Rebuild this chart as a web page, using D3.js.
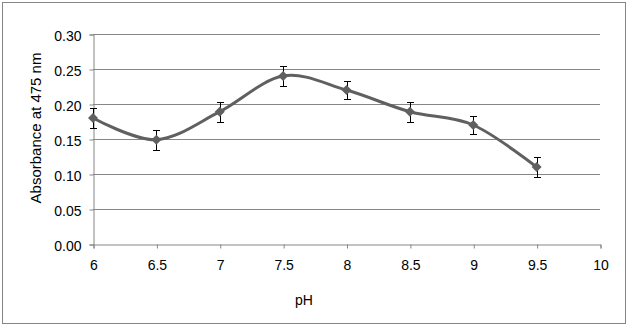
<!DOCTYPE html>
<html>
<head>
<meta charset="utf-8">
<script src="https://cdn.jsdelivr.net/npm/d3@7"></script>
<style>
  html, body { margin: 0; padding: 0; background: #fff; }
  svg { display: block; font-family: "Liberation Sans", Arial, sans-serif; }
</style>
</head>
<body>
<svg id="chart" width="629" height="327"></svg>
<script>
// Absorbance at 475 nm versus pH
const phValues = [6, 6.5, 7, 7.5, 8, 8.5, 9, 9.5];
const absorbance = [0.18, 0.149, 0.189, 0.24, 0.22, 0.189, 0.17, 0.11];
const errors = [0.014, 0.014, 0.014, 0.014, 0.013, 0.014, 0.013, 0.014];
const xTicks = [6, 6.5, 7, 7.5, 8, 8.5, 9, 9.5, 10];
const yTicks = [0, 0.05, 0.10, 0.15, 0.20, 0.25, 0.30];

const svg = d3.select("#chart");
const plotLeft = 93, plotRight = 600, plotTop = 34, plotBottom = 244;
const axisColor = "#868686";
const fontFamily = "Liberation Sans, Arial, sans-serif";

// Outer chart frame
svg.append("rect")
  .attr("x", 2.5).attr("y", 2.5)
  .attr("width", 623).attr("height", 321)
  .attr("fill", "#fff").attr("stroke", axisColor).attr("stroke-width", 1);

const x = d3.scaleLinear().domain([6, 10]).range([plotLeft, plotRight]);
const y = d3.scaleLinear().domain([0, 0.30]).range([plotBottom, plotTop]);

// Horizontal gridlines
svg.append("g")
  .selectAll("line")
  .data(yTicks.filter(t => t > 0))
  .join("line")
  .attr("x1", plotLeft).attr("x2", plotRight)
  .attr("y1", d => Math.round(y(d)) + 0.5).attr("y2", d => Math.round(y(d)) + 0.5)
  .attr("stroke", axisColor).attr("stroke-width", 1);

// Y axis
const yAxis = svg.append("g")
  .attr("transform", `translate(${plotLeft + 0.5},0.5)`)
  .call(d3.axisLeft(y).tickValues(yTicks).tickFormat(d3.format(".2f")).tickSize(4).tickPadding(8));
yAxis.select(".domain").attr("stroke", axisColor);
yAxis.selectAll(".tick line").attr("stroke", axisColor);
yAxis.selectAll("text").attr("font-size", 14).attr("fill", "#000")
  .attr("font-family", fontFamily).attr("dy", "0.45em");

// X axis
const xAxis = svg.append("g")
  .attr("transform", `translate(0.5,${plotBottom + 0.5})`)
  .call(d3.axisBottom(x).tickValues(xTicks).tickFormat(d => String(d)).tickSize(4).tickPadding(12));
xAxis.select(".domain").attr("stroke", axisColor);
xAxis.selectAll(".tick line").attr("stroke", axisColor);
xAxis.selectAll("text").attr("font-size", 14).attr("fill", "#000")
  .attr("font-family", fontFamily);

const points = phValues.map((p, i) => ({ p, v: absorbance[i], e: errors[i] }));

// Smoothed series line
const line = d3.line()
  .x(d => x(d.p)).y(d => y(d.v))
  .curve(d3.curveCardinal.tension(0));
svg.append("path")
  .datum(points)
  .attr("d", line)
  .attr("fill", "none")
  .attr("stroke", "#606060")
  .attr("stroke-width", 3)
  .attr("stroke-linejoin", "round");

// Error bars
const eb = svg.append("g").attr("stroke", "#000").attr("stroke-width", 1);
points.forEach(d => {
  const cx = Math.round(x(d.p)) + 0.5;
  const y1 = Math.round(y(d.v + d.e)) + 0.5;
  const y2 = Math.round(y(d.v - d.e)) + 0.5;
  eb.append("line").attr("x1", cx).attr("x2", cx).attr("y1", y1).attr("y2", y2);
  eb.append("line").attr("x1", cx - 3.5).attr("x2", cx + 3.5).attr("y1", y1).attr("y2", y1);
  eb.append("line").attr("x1", cx - 3.5).attr("x2", cx + 3.5).attr("y1", y2).attr("y2", y2);
});

// Diamond markers
svg.append("g")
  .selectAll("path")
  .data(points)
  .join("path")
  .attr("transform", d => `translate(${x(d.p)},${y(d.v)})`)
  .attr("d", "M0,-5L5,0L0,5L-5,0Z")
  .attr("fill", "#606060");

// Axis titles
svg.append("text")
  .attr("x", 304).attr("y", 305)
  .attr("text-anchor", "middle")
  .attr("font-size", 14)
  .text("pH");

svg.append("text")
  .attr("transform", "translate(41,128) rotate(-90)")
  .attr("text-anchor", "middle")
  .attr("font-size", 15)
  .text("Absorbance at 475 nm");
</script>
</body>
</html>
